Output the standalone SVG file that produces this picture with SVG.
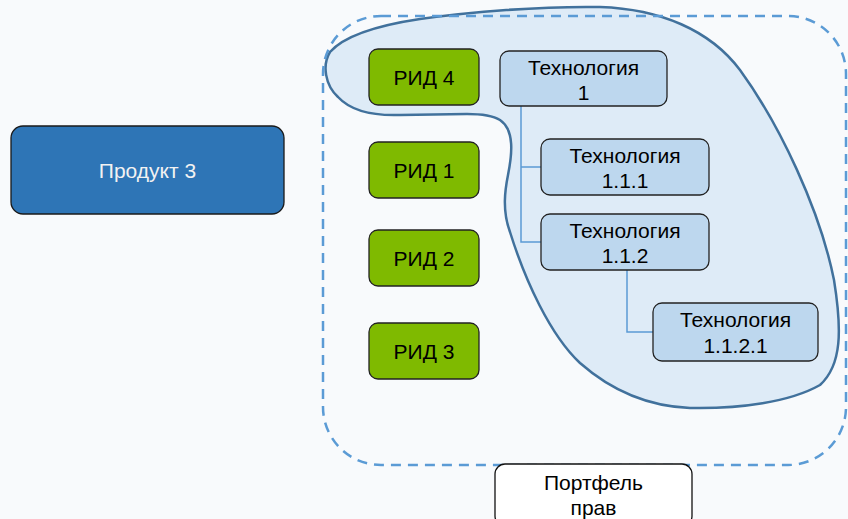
<svg xmlns="http://www.w3.org/2000/svg" width="848" height="519" viewBox="0 0 848 519">
<style>
text{font-family:"Liberation Sans",Arial,sans-serif;font-size:21px;text-anchor:middle;fill:#000}
.rid{fill:#7fba00;stroke:#222;stroke-width:1.3}
.tech{fill:#bdd7ee;stroke:#222;stroke-width:1.3}
.conn{fill:none;stroke:#5b9bd5;stroke-width:1.5}
</style>
<rect x="0" y="0" width="848" height="519" fill="#f8fafc"/>
<g id="cluster">
<path d="M330,52 C345,35 380,25 420,19 C470,12 540,6 600,7 C660,9 710,30 740,70 C780,125 820,210 834,280 C842,330 842,365 820,385 C790,402 740,409 690,408 C640,406 605,385 580,363 C550,335 525,280 510,232 C502,210 505,190 508,175 C512,155 515,130 500,120 C492,115 480,114 467,114 L400,115 C370,116 350,110 338,97 C325,85 322,65 330,52 Z" fill="#deebf7" stroke="#41719c" stroke-width="2.5"/>
</g>
<g id="portfolio-frame">
<rect x="323" y="16" width="523" height="449" rx="58" fill="none" stroke="#5b9bd5" stroke-width="2.5" stroke-dasharray="10 7"/>
</g>
<g id="connectors">
<path class="conn" d="M521,106 V242 H541 M521,167 H541"/>
<path class="conn" d="M627,270 V332 H653"/>
</g>
<g id="product3">
<rect x="11" y="126" width="273" height="88" rx="12" fill="#2e75b6" stroke="#1a1a1a" stroke-width="1.3"/>
<text x="147.5" y="178" style="fill:#f2f2f2">Продукт 3</text>
</g>
<g id="rid4"><rect class="rid" x="369" y="49" width="110" height="56" rx="9"/><text x="424" y="85">РИД 4</text></g>
<g id="rid1"><rect class="rid" x="369" y="142" width="110" height="56" rx="9"/><text x="424" y="178">РИД 1</text></g>
<g id="rid2"><rect class="rid" x="369" y="230" width="110" height="56" rx="9"/><text x="424" y="266">РИД 2</text></g>
<g id="rid3"><rect class="rid" x="369" y="323" width="110" height="56" rx="9"/><text x="424" y="359">РИД 3</text></g>
<g id="tech1"><rect class="tech" x="500" y="51" width="167" height="55" rx="9"/><text x="583.5" y="75">Технология</text><text x="583.5" y="100">1</text></g>
<g id="tech111"><rect class="tech" x="541" y="139" width="168" height="56" rx="9"/><text x="625" y="163">Технология</text><text x="625" y="188">1.1.1</text></g>
<g id="tech112"><rect class="tech" x="541" y="214" width="168" height="56" rx="9"/><text x="625" y="238">Технология</text><text x="625" y="263">1.1.2</text></g>
<g id="tech1121"><rect class="tech" x="653" y="303" width="165" height="58" rx="9"/><text x="735.5" y="327">Технология</text><text x="735.5" y="353">1.1.2.1</text></g>
<g id="portfolio-label"><rect x="495" y="464" width="197" height="62" rx="10" fill="#ffffff" stroke="#111" stroke-width="1.3"/><text x="593.5" y="490">Портфель</text><text x="593.5" y="515">прав</text></g>
</svg>
